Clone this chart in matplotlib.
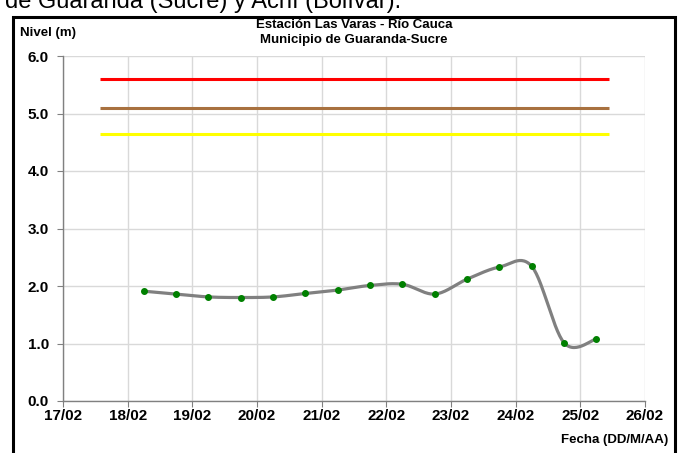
import numpy as np
import pandas as pd
import matplotlib
matplotlib.use("Agg")
import matplotlib.pyplot as plt
import matplotlib.dates as mdates
from matplotlib.patches import Rectangle

# ---- data ----
times = ["2011-02-18 06:00", "2011-02-18 18:00", "2011-02-19 06:00", "2011-02-19 18:00",
         "2011-02-20 06:00", "2011-02-20 18:00", "2011-02-21 06:00", "2011-02-21 18:00",
         "2011-02-22 06:00", "2011-02-22 18:00", "2011-02-23 06:00", "2011-02-23 18:00",
         "2011-02-24 06:00", "2011-02-24 18:00", "2011-02-25 06:00"]
nivel = [1.91, 1.86, 1.81, 1.80, 1.81, 1.87, 1.93, 2.01, 2.03, 1.86, 2.12, 2.33, 2.34, 1.01, 1.08]

umbral_start = "2011-02-17 13:40"
umbral_end = "2011-02-25 10:30"
umbral_rojo = 5.60
umbral_naranja = 5.10
umbral_amarillo = 4.65

tick_dates = ["2011-02-17", "2011-02-18", "2011-02-19", "2011-02-20", "2011-02-21",
              "2011-02-22", "2011-02-23", "2011-02-24", "2011-02-25", "2011-02-26"]
tick_labels = ["17/02", "18/02", "19/02", "20/02", "21/02", "22/02", "23/02", "24/02", "25/02", "26/02"]
y_ticks = [0.0, 1.0, 2.0, 3.0, 4.0, 5.0, 6.0]

title1 = "Estación Las Varas - Río Cauca"
title2 = "Municipio de Guaranda-Sucre"
ylabel = "Nivel (m)"
xlabel = "Fecha (DD/M/AA)"
caption = "de Guaranda (Sucre) y Achí (Bolívar)."

# ---- helpers ----
def excel_smooth(x, y, n=30):
    x = np.asarray(x, float); y = np.asarray(y, float)
    xs, ys = [], []
    m = len(x)
    for i in range(m - 1):
        p0 = (x[i - 1], y[i - 1]) if i > 0 else (x[i], y[i])
        p1 = (x[i], y[i]); p2 = (x[i + 1], y[i + 1])
        p3 = (x[i + 2], y[i + 2]) if i + 2 < m else (x[i + 1], y[i + 1])
        c1 = (p1[0] + (p2[0] - p0[0]) / 6, p1[1] + (p2[1] - p0[1]) / 6)
        c2 = (p2[0] - (p3[0] - p1[0]) / 6, p2[1] - (p3[1] - p1[1]) / 6)
        t = np.linspace(0, 1, n)
        bx = (1-t)**3*p1[0] + 3*(1-t)**2*t*c1[0] + 3*(1-t)*t**2*c2[0] + t**3*p2[0]
        by = (1-t)**3*p1[1] + 3*(1-t)**2*t*c1[1] + 3*(1-t)*t**2*c2[1] + t**3*p2[1]
        xs.extend(bx); ys.extend(by)
    return np.array(xs), np.array(ys)

narrow = ["Liberation Sans Narrow", "Liberation Sans", "DejaVu Sans"]
sans = ["Liberation Sans", "DejaVu Sans"]

x = mdates.date2num(pd.to_datetime(times))
xt = mdates.date2num(pd.to_datetime(tick_dates))
u0, u1 = mdates.date2num(pd.to_datetime([umbral_start, umbral_end]))

W, H = 682, 453
fig = plt.figure(figsize=(W / 100, H / 100), dpi=100)
ax = fig.add_axes([63 / W, 1 - 401 / H, (645 - 63) / W, (401 - 56) / H])

ax.set_xlim(xt[0], xt[-1])
ax.set_ylim(0, 6)
ax.set_xticks(xt)
ax.set_xticklabels(tick_labels)
ax.set_yticks(y_ticks)
ax.set_yticklabels([f"{v:.1f}" for v in y_ticks])
for lab in ax.get_xticklabels() + ax.get_yticklabels():
    lab.set_fontfamily(sans)
    lab.set_fontweight("bold")
    lab.set_fontsize(11)
ax.grid(True, color="#D9D9D9", linewidth=1)
ax.set_axisbelow(True)
for s in ["top", "right"]:
    ax.spines[s].set_visible(False)
for s in ["left", "bottom"]:
    ax.spines[s].set_color("#808080")
    ax.spines[s].set_linewidth(1)
ax.tick_params(direction="out", length=4, color="#808080")
ax.tick_params(axis="y", pad=6)
ax.tick_params(axis="x", pad=2)

ax.hlines([umbral_rojo], u0, u1, color="#FF0000", linewidth=2.2)
ax.hlines([umbral_naranja], u0, u1, color="#A8713F", linewidth=2.2)
ax.hlines([umbral_amarillo], u0, u1, color="#FFFF00", linewidth=2.2)

sx, sy = excel_smooth(x, nivel)
ax.plot(sx, sy, color="#808080", linewidth=2.3, solid_capstyle="round", zorder=3)
ax.plot(x, nivel, linestyle="none", marker="o", markersize=4, color="#008000", zorder=4)

fig.text(354 / W, 1 - 25 / H, title1, ha="center", va="center", fontsize=9.5,
         fontweight="bold", family=narrow)
fig.text(354 / W, 1 - 40 / H, title2, ha="center", va="center", fontsize=9.5,
         fontweight="bold", family=narrow)
fig.text(20 / W, 1 - 33 / H, ylabel, ha="left", va="center", fontsize=9.5,
         fontweight="bold", family=narrow)
fig.text(668 / W, 1 - 440 / H, xlabel, ha="right", va="center", fontsize=9.5,
         fontweight="bold", family=narrow)
fig.text(5 / W, 1 - 8 / H, caption, ha="left", va="baseline", fontsize=17,
         family=sans)

fig.patches.append(Rectangle((13 / W, -0.05), (675 - 13) / W, 1.05 - 17 / H,
                             transform=fig.transFigure, fill=False,
                             edgecolor="black", linewidth=2.2))

fig.savefig("out.png", dpi=100)
